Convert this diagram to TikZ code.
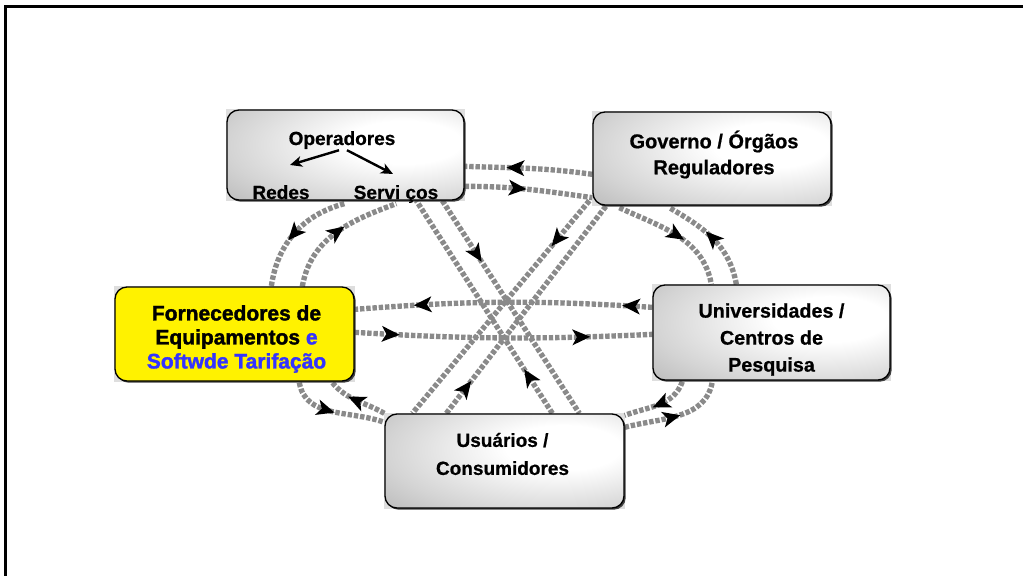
\documentclass[tikz,border=0pt]{standalone}
\usepackage{fontspec}
\setmainfont{Liberation Sans}[BoldFeatures={FakeBold=0.7}]
\newfontfamily\heavyfont{Liberation Sans}[BoldFeatures={FakeBold=1.6}]
\usetikzlibrary{arrows.meta,decorations.markings,calc,backgrounds,shadows}

\definecolor{flowgray}{RGB}{138,138,138}
\definecolor{tagblue}{RGB}{51,51,255}

% soft highlight inside the grey boxes
\pgfdeclareradialshading{boxglow}{\pgfpoint{14bp}{8bp}}{%
  color(0bp)=(white); color(12bp)=(white); color(34bp)=(black!17);
  color(54bp)=(black!35); color(100bp)=(black!46)}

% notched arrowhead placed along a flow line
\newcommand{\flowhead}{%
  \fill[black, solid] (7pt,0pt) -- (-6.5pt,6pt) -- (-3pt,0pt) -- (-6.5pt,-6pt) -- cycle;}

\tikzset{
  box/.style={draw=black, line width=1pt, rounded corners=9pt, inner sep=0pt,
    drop shadow={shadow xshift=1.3pt, shadow yshift=-1.3pt,
    fill=black!75, opacity=1}},
  graybox/.style={box, shade, shading=boxglow},
  yellowbox/.style={box, fill=yellow},
  cornerbg/.style={fill=black!13},
  boxtext/.style={inner sep=0pt, align=center},
  txt/.style={inner sep=0pt, font=\bfseries\fontsize{14.25pt}{19.5pt}\selectfont},
  subarr/.style={line width=1.8pt, -{Stealth[length=9pt,width=8pt,inset=2.5pt]}},
  conn/.style={draw=flowgray, line width=4pt, dash pattern=on 3.3pt off 1.4pt},
  mk/.style={decoration={markings,
      mark=at position #1 with {\flowhead}},
    postaction={decorate}},
  mktwo/.style 2 args={decoration={markings,
      mark=at position #1 with {\flowhead},
      mark=at position #2 with {\flowhead}},
    postaction={decorate}},
}

\begin{document}
\begin{tikzpicture}[x=0.75pt,y=-0.75pt]
\useasboundingbox (0,0) rectangle (1023,576);

% outer frame (top and left edges)
\draw[line width=2.7pt, line join=miter] (1023,6.5) -- (5.3,6.5) -- (5.3,576);

% actor boxes
\node[graybox, minimum width=177.75pt, minimum height=67.5pt] (op) at (345.5,155) {};
\node[txt, anchor=base] (opt) at (342,145) {Operadores};
\node[txt, anchor=base] (redes) at (281,199) {Redes};
\node[txt, anchor=base] (serv) at (396,199) {Servi ços};
\draw[subarr] ($(opt.south)+(-3,1)$) -- ($(redes.north)+(9,-20)$);
\draw[subarr] ($(opt.south)+(5,1)$) -- ($(serv.north)+(-3,-11)$);

\node[graybox, minimum width=178.5pt, minimum height=69.75pt] (gov) at (712,158.5) {};
\node[boxtext, font=\bfseries\fontsize{15pt}{19.5pt}\selectfont] (govt)
  at ($(gov.center)+(2,-4)$) {Governo / Órgãos\\Reguladores};

\node[yellowbox, minimum width=179.25pt, minimum height=70.5pt] (forn) at (234.5,334) {};
\node[boxtext, font=\heavyfont\bfseries\fontsize{15.75pt}{18pt}\selectfont] (fornt)
  at ($(forn.center)+(2,5)$)
  {Fornecedores de\\Equipamentos \textcolor{tagblue}{e}\\\textcolor{tagblue}{Softwde Tarifação}};

\node[graybox, minimum width=177.75pt, minimum height=71.25pt] (univ) at (771.5,332.5) {};
\node[boxtext, font=\bfseries\fontsize{14.8pt}{20.25pt}\selectfont] (univt)
  at ($(univ.center)+(0,7)$) {Universidades /\\Centros de\\Pesquisa};

\node[graybox, minimum width=179.25pt, minimum height=70.5pt] (usu) at (504.5,461) {};
\node[boxtext, font=\bfseries\fontsize{14.25pt}{21pt}\selectfont] (usut)
  at ($(usu.center)+(-2,-7)$) {Usuários /\\Consumidores};

\begin{scope}[on background layer]
  \fill[white] (0,0) rectangle (1023,576);
  \foreach \n in {op,gov,forn,univ,usu}
    \fill[cornerbg] (\n.south west) rectangle (\n.north east);

  % outer ring (counter-clockwise)
  \draw[conn, mk=0.6] ($(gov.north west)+(0,63)$) to[out=172,in=-2] ($(op.north east)+(0,57)$);
  \draw[conn, mk=0.5] ($(op.south west)+(118,3)$) to[out=195,in=82] ($(forn.north west)+(157,0)$);
  \draw[conn, mk=0.4] ($(forn.south west)+(185,1)$) to[out=-80,in=160] ($(usu.north west)+(0,9)$);
  \draw[conn, mk=0.45] ($(usu.north east)+(0,14)$) to[out=15,in=-100] ($(univ.south west)+(60,1)$);
  \draw[conn, mk=0.5] ($(univ.north west)+(84,0)$) to[out=100,in=-30] ($(gov.south west)+(77,2)$);

  % inner ring (clockwise)
  \draw[conn, mk=0.41] ($(op.north east)+(0,77)$) to[out=0,in=172] ($(gov.south west)+(0,-8)$);
  \draw[conn, mk=0.5] ($(gov.south west)+(27,2)$) to[out=-25,in=100] ($(univ.north west)+(59,0)$);
  \draw[conn, mk=0.45] ($(univ.south west)+(30,1)$) to[out=-110,in=20] ($(usu.north east)+(0,2)$);
  \draw[conn, mk=0.5] ($(usu.north west)+(0,0)$) to[out=150,in=-50] ($(forn.south west)+(218,1)$);
  \draw[conn, mk=0.5] ($(forn.north west)+(188,0)$) to[out=80,in=200] ($(op.south west)+(170,3)$);

  % suppliers <-> universities
  \draw[conn, mktwo={0.07}{0.77}] ($(univ.north west)+(0,23)$) to[bend right=4] ($(forn.north east)+(0,23)$);
  \draw[conn, mktwo={0.12}{0.76}] ($(forn.north east)+(0,46)$) to[bend right=3] ($(univ.north west)+(0,50)$);

  % diagonals through the centre
  \draw[conn, mk=0.25] ($(op.south west)+(216,0)$) -- ($(usu.north west)+(195,0)$);
  \draw[conn, mk=0.17] ($(usu.north west)+(168,0)$) -- ($(op.south west)+(190,0)$);
  \draw[conn, mk=0.18] ($(gov.south west)+(-3,-5)$) -- ($(usu.north west)+(28,0)$);
  \draw[conn, mk=0.12] ($(usu.north west)+(62,0)$) -- ($(gov.south west)+(14,0)$);
\end{scope}
\end{tikzpicture}
\end{document}
